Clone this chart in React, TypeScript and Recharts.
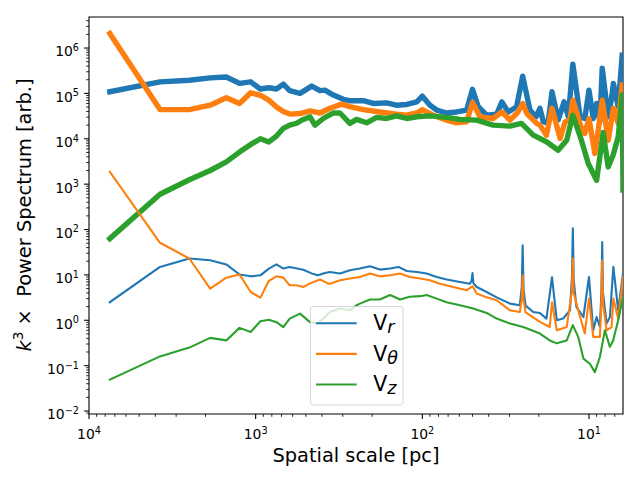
import { LineChart, Line, XAxis, YAxis, ReferenceArea } from "recharts"

type Pt = [number, number]

// [spatial scale (pc), k^3 x power].
// "Bulk" = thick upper curves, "Core" = thin lower curves.
const vrBulk: Pt[] = [
	[7500, 1.09e5], [3750, 1.8e5], [2500, 1.95e5], [1875, 2.2e5], [1500, 2.3e5], [1250, 1.66e5],
	[1071, 1.8e5], [937, 1.25e5], [833, 1.33e5], [750, 1.25e5], [682, 1.6e5], [625, 1.15e5],
	[542, 1.0e5], [461, 1.45e5], [411, 1.15e5], [384, 1.18e5], [342, 9.2e4], [298, 7.4e4],
	[272, 6.9e4], [226, 6.9e4], [197, 6.0e4], [164, 6.2e4], [143, 5.5e4], [124, 5.7e4],
	[108, 6.5e4], [100, 8.7e4], [90, 5.5e4], [82, 4.3e4], [71.5, 3.7e4], [62.3, 3.9e4],
	[54.2, 4.3e4], [50, 1.23e5], [46.2, 5.1e4], [41.1, 3.3e4], [35.8, 3.5e4], [33.3, 6.5e4],
	[30.5, 3.9e4], [27.2, 5.1e4], [25, 2.4e5], [22.6, 4.3e4], [20.8, 3.05e4], [19.7, 4.7e4],
	[18.8, 2.37e4], [17.6, 2.2e4], [16.67, 1.09e5], [15.3, 2.6e4], [14.1, 6.5e4], [13.3, 3.05e4],
	[12.5, 4.4e5], [11.3, 3.05e4], [10.6, 2.8e4], [10, 1.18e5], [9.43, 2.8e4], [9.0, 6e4],
	[8.6, 2.37e4], [8.33, 3.6e5], [7.67, 3.05e4], [7.32, 7.8e4], [7.14, 1.66e5], [6.68, 5.1e4],
	[6.32, 7e5],
]

const vthBulk: Pt[] = [
	[7500, 2.1e6], [3750, 4.4e4], [2500, 4.4e4], [1875, 5.5e4], [1500, 8e4], [1250, 6e4],
	[1071, 1.03e5], [937, 9.1e4], [833, 7.1e4], [750, 5e4], [682, 4e4], [625, 3.5e4],
	[542, 3.6e4], [472, 4.1e4], [411, 3.7e4], [358, 4.7e4], [305, 5.8e4], [272, 5.1e4],
	[226, 4.4e4], [180, 3.9e4], [143, 3.5e4], [124, 3.3e4], [108, 3.7e4], [100, 4.4e4],
	[86, 3.3e4], [71.5, 2.58e4], [62.3, 2.25e4], [54.2, 2.37e4], [50, 6.3e4], [45.1, 3.05e4],
	[37.6, 2.8e4], [33.3, 3.9e4], [29.8, 2.58e4], [26.8, 3.8e4], [25, 6e4], [23.6, 3.6e4],
	[20.6, 2.18e4], [19.7, 2e4], [18, 1.2e4], [16.67, 4.7e4], [14.9, 1.02e4], [13.9, 2.37e4],
	[13, 2.58e4], [12.5, 7.1e4], [11.1, 1.7e4], [10.6, 1.31e4], [10, 2.8e4], [9.22, 4.75e3],
	[8.8, 1.55e4], [8.33, 7.1e4], [7.67, 9.3e3], [7.14, 4.7e4], [6.68, 2.18e4], [6.32, 1.53e5],
]

const vzBulk: Pt[] = [
	[7500, 63], [3750, 600], [2500, 1.25e3], [1875, 2e3], [1500, 3.1e3], [1250, 5.1e3],
	[1071, 7.5e3], [937, 1e4], [833, 8.5e3], [750, 1.15e4], [682, 1.7e4], [625, 2e4],
	[568, 2.2e4], [527, 2.6e4], [472, 3.05e4], [441, 2e4], [393, 2.8e4], [342, 3.7e4],
	[312, 3.7e4], [272, 2.18e4], [248, 2.67e4], [216, 2.25e4], [188, 2.96e4], [164, 2.8e4],
	[143, 3.2e4], [124, 2.8e4], [108, 3.05e4], [90, 3.2e4], [71.5, 2.96e4], [59.5, 2.67e4],
	[47.2, 2.58e4], [37.6, 2e4], [29.8, 1.9e4], [25.4, 2.18e4], [21.6, 1.2e4], [18, 8.6e3],
	[15.3, 5.6e3], [13.6, 9.3e3], [12.5, 3.3e4], [11.1, 9.3e3], [10.1, 2.86e3], [9.0, 1.22e3],
	[8.22, 1.37e4], [7.67, 2.4e3], [7.16, 4.4e3], [6.68, 1.1e4], [6.32, 9.2e4], [6.25, 740],
]

const vrCore: Pt[] = [
	[7500, 2.5], [3750, 15], [2500, 23], [1875, 21], [1500, 17], [1250, 10.2], [1071, 9.3],
	[937, 9.8], [833, 13.8], [750, 17], [682, 13.8], [625, 15], [518, 13], [461, 10.8],
	[423, 9.8], [384, 11], [358, 11.6], [312, 10.7], [272, 12.7], [237, 13.8], [206, 15.5],
	[180, 13.1], [156, 13.8], [139, 15], [124, 12.2], [108, 11.6], [94.2, 10.7], [82, 9.0],
	[71.5, 7.9], [59.5, 7.0], [51.8, 6.4], [50.6, 7.5], [50, 11], [49.4, 6.6], [47.2, 5.4],
	[41.1, 4.2], [35.8, 3.2], [29.8, 2.33], [26, 2.14], [25.3, 5.5], [25, 45], [24.7, 4.8],
	[24, 2.1], [21.6, 1.52], [19.7, 1.45], [18, 1.09], [16.67, 8.9], [15.6, 1.0], [14.3, 1.09],
	[13, 1.66], [12.65, 9], [12.5, 107], [12.35, 8], [11.9, 1.96], [10.8, 1.18], [10, 9.0],
	[9.43, 0.6], [9.0, 1.18], [8.6, 0.71], [8.42, 4.5], [8.33, 53], [8.24, 4], [7.84, 0.85],
	[7.49, 1.18], [7.14, 15], [6.68, 1.66], [6.25, 10.7],
]

const vthCore: Pt[] = [
	[7500, 1870], [3750, 51], [2500, 23], [1875, 5], [1500, 8.7], [1250, 10.2], [1071, 4.2],
	[937, 3.16], [833, 7.4], [750, 9.3], [682, 8.7], [625, 5.9], [568, 5.9], [518, 5.4],
	[472, 6.5], [411, 7.9], [369, 6.5], [358, 6.4], [312, 7.6], [272, 8.3], [237, 9.0],
	[206, 10.7], [180, 9.3], [156, 9.8], [136, 10.7], [119, 9.0], [103, 8.3], [90, 7.6],
	[78.4, 6.4], [65.3, 5.4], [54.2, 4.6], [50, 5.6], [47.2, 3.9], [41.1, 3.2], [35.8, 2.76],
	[29.8, 1.66], [26, 1.52], [25.3, 3.0], [25, 9.8], [24.7, 2.8], [24, 1.5], [19.7, 0.92],
	[17.2, 0.71], [16.67, 2.5], [15.6, 0.6], [13.6, 0.71], [12.65, 4.5], [12.5, 23], [12.35, 4],
	[11.6, 1.66], [10.6, 0.51], [10, 3.0], [9.43, 0.43], [8.6, 0.43], [8.42, 2.6], [8.33, 21],
	[8.24, 2.4], [7.84, 0.6], [7.32, 0.71], [7.14, 3.0], [6.68, 1.09], [6.25, 9.0],
]

const vzCore: Pt[] = [
	[7500, 0.049], [3750, 0.16], [2500, 0.25], [1875, 0.41], [1500, 0.36], [1250, 0.68],
	[1071, 0.55], [937, 0.95], [833, 1.03], [750, 0.91], [682, 0.71], [625, 1.09], [542, 1.4],
	[472, 0.91], [423, 0.85], [358, 1.52], [312, 1.81], [272, 1.66], [248, 2.14], [237, 2.33],
	[206, 2.86], [180, 2.86], [156, 3.6], [136, 2.86], [119, 3.3], [103, 3.4], [94.2, 3.6],
	[82, 3.0], [71.5, 2.5], [59.5, 2.14], [49.5, 1.81], [41.1, 1.45], [35.8, 1.09], [29.8, 0.85],
	[24.8, 0.71], [19.7, 0.51], [17.2, 0.36], [15.6, 0.31], [13.6, 0.36], [12.5, 0.78],
	[11.6, 0.43], [10.8, 0.143], [9.88, 0.11], [9.22, 0.072], [8.6, 0.155], [8.03, 0.6],
	[7.49, 0.26], [7.16, 0.36], [6.68, 1.0], [6.25, 3.3],
]

const legendItems = [
	{ sub: "r", color: "#1f77b4" },
	{ sub: "θ", color: "#ff7f0e" },
	{ sub: "z", color: "#2ca02c" },
]

const X_MIN = 6.25
const X_MAX = 10000
const Y_MIN = 0.0086
const Y_MAX = 4.83e6

const FONT = "DejaVu Sans"
const C_R = "#1f77b4"
const C_TH = "#ff7f0e"
const C_Z = "#2ca02c"

const rows = (pts: Pt[]) => pts.map(([s, p]) => ({ s, p }))

// log-axis ticks: decades plus 2..9 minors, clipped to the visible range
function logTicks(lo: number, hi: number) {
	const out: number[] = []
	for (let d = Math.floor(Math.log10(lo)); d <= Math.ceil(Math.log10(hi)); d++) {
		for (let m = 1; m <= 9; m++) {
			const v = m * Math.pow(10, d)
			if (v >= lo * 0.999 && v <= hi * 1.001) out.push(v)
		}
	}
	return out
}

const xTicks = logTicks(X_MIN, X_MAX)
const yTicks = logTicks(Y_MIN, Y_MAX)

const decadeOf = (v: number) => {
	const e = Math.log10(v)
	return Math.abs(e - Math.round(e)) < 1e-6 ? Math.round(e) : null
}

const fmtExp = (e: number) => (e < 0 ? `\u2212${-e}` : `${e}`)

function XTick(props: any) {
	const { x, y, payload } = props
	const e = decadeOf(payload.value)
	const major = e !== null
	return (
		<g>
			<line x1={x} x2={x} y1={y} y2={y + (major ? 4.9 : 2.8)} stroke="#000" strokeWidth={major ? 1.1 : 0.85} />
			{major && (
				<text x={x} y={y + 25} textAnchor="middle" fontSize={13.9} fontFamily={FONT} fill="#000">
					<tspan>10</tspan>
					<tspan dy={-5.5} fontSize={9.7}>{fmtExp(e)}</tspan>
				</text>
			)}
		</g>
	)
}

function YTick(props: any) {
	const { x, y, payload } = props
	const e = decadeOf(payload.value)
	const major = e !== null
	return (
		<g>
			<line x1={x - (major ? 4.9 : 2.8)} x2={x} y1={y} y2={y} stroke="#000" strokeWidth={major ? 1.1 : 0.85} />
			{major && (
				<text x={x - 10} y={y + 8.4} textAnchor="end" fontSize={13.9} fontFamily={FONT} fill="#000">
					<tspan>10</tspan>
					<tspan dy={-5.5} fontSize={9.7}>{fmtExp(e)}</tspan>
				</text>
			)}
		</g>
	)
}

function LegendBox() {
	return (
		<svg
			width={94}
			height={100}
			style={{ position: "absolute", left: 310, top: 306, fontFamily: FONT, pointerEvents: "none" }}
		>
			<rect x={0.5} y={0.5} width={92.5} height={98.5} rx={3} fill="#fff" fillOpacity={0.8} stroke="#ccc" strokeOpacity={0.8} />
			{legendItems.map((it, i) => {
				const ly = 17.3 + i * 30.6
				return (
					<g key={it.sub}>
						<line x1={6} x2={46.7} y1={ly} y2={ly} stroke={it.color} strokeWidth={2.1} />
						<text x={63.3} y={ly + 6.7} fontSize={20.5} fill="#000">
							<tspan>V</tspan>
							<tspan dy={3} fontSize={17.5} fontStyle="italic">{it.sub}</tspan>
						</text>
					</g>
				)
			})}
		</svg>
	)
}

export default function App() {
	const bulk = [
		{ pts: vrBulk, color: C_R },
		{ pts: vthBulk, color: C_TH },
		{ pts: vzBulk, color: C_Z },
	]
	const core = [
		{ pts: vrCore, color: C_R, name: "Vr" },
		{ pts: vthCore, color: C_TH, name: "Vθ" },
		{ pts: vzCore, color: C_Z, name: "Vz" },
	]
	return (
		<div style={{ position: "absolute", left: 0, top: 0, width: 640, height: 480, background: "#fff" }}>
			<LineChart width={640} height={480} margin={{ top: 17, right: 17, bottom: 0, left: 0 }} style={{ fontFamily: FONT }}>
				<XAxis
					dataKey="s"
					type="number"
					scale="log"
					domain={[X_MIN, X_MAX]}
					reversed
					allowDataOverflow
					ticks={xTicks}
					interval={0}
					tick={(p: any) => <XTick {...p} />}
					tickLine={false}
					axisLine={false}
					tickSize={0}
					tickMargin={0}
					height={66}
				/>
				<YAxis
					type="number"
					scale="log"
					domain={[Y_MIN, Y_MAX]}
					allowDataOverflow
					ticks={yTicks}
					interval={0}
					tick={(p: any) => <YTick {...p} />}
					tickLine={false}
					axisLine={false}
					tickSize={0}
					tickMargin={0}
					width={89}
				/>
				{bulk.map((b, i) => (
					<Line
						key={`bulk-${i}`}
						data={rows(b.pts)}
						dataKey="p"
						type="linear"
						stroke={b.color}
						strokeWidth={5.4}
						strokeLinejoin="round"
						strokeLinecap="square"
						dot={false}
						activeDot={false}
						legendType="none"
						isAnimationActive={false}
					/>
				))}
				{core.map((c, i) => (
					<Line
						key={`core-${i}`}
						name={c.name}
						data={rows(c.pts)}
						dataKey="p"
						type="linear"
						stroke={c.color}
						strokeWidth={2.1}
						strokeLinejoin="round"
						strokeLinecap="square"
						dot={false}
						activeDot={false}
						isAnimationActive={false}
					/>
				))}
				<ReferenceArea
					x1={X_MAX}
					x2={X_MIN}
					y1={Y_MIN}
					y2={Y_MAX}
					fill="none"
					fillOpacity={0}
					stroke="#000"
					strokeWidth={1.1}
					ifOverflow="visible"
				/>
				<text x={356} y={462} textAnchor="middle" fontSize={19.4} fontFamily={FONT} fill="#000">
					Spatial scale [pc]
				</text>
				<text
					x={30.5}
					y={215}
					transform="rotate(-90 30.5 215)"
					textAnchor="middle"
					fontSize={19.4}
					fontFamily={FONT}
					fill="#000"
				>
					<tspan fontStyle="italic">k</tspan>
					<tspan dy={-7.5} fontSize={13.6}>3</tspan>
					<tspan dy={7.5}>{"\u00a0\u00d7\u00a0 Power Spectrum [arb.]"}</tspan>
				</text>
			</LineChart>
			<LegendBox />
		</div>
	)
}
